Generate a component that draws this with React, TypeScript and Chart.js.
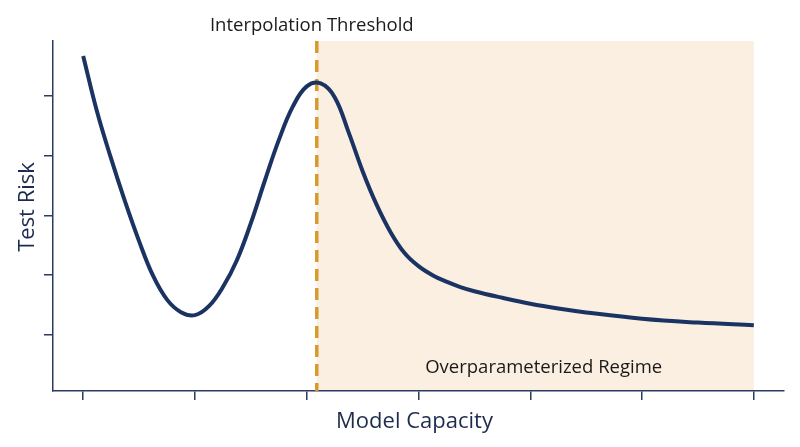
import { useEffect, useRef } from "react";
import { Chart, registerables } from "chart.js";

Chart.register(...registerables);

// Model capacity (x) and test risk (y)
const capacity = [
  0, 0.125, 0.25, 0.375, 0.5, 0.625, 0.75, 0.875, 1.0, 1.125, 1.25, 1.375, 1.5, 1.625, 1.75, 1.875, 2.0,
  2.125, 2.25, 2.375, 2.5, 2.625, 2.75, 2.875, 3.0, 3.125, 3.25, 3.375, 3.5, 3.75, 4.0, 4.25, 4.5, 5.0, 5.5, 6.0,
];
const testRisk = [
  5.67, 4.73, 3.95, 3.23, 2.57, 1.99, 1.59, 1.38, 1.33, 1.48, 1.8, 2.25, 2.87, 3.58, 4.26, 4.82, 5.16,
  5.21, 4.98, 4.39, 3.74, 3.18, 2.72, 2.37, 2.15, 2.0, 1.89, 1.8, 1.73, 1.62, 1.52, 1.44, 1.375, 1.27, 1.205, 1.16,
];

const xTicks = [0, 1, 2, 3, 4, 5, 6];
const yTicks = [1, 2, 3, 4, 5];
const xRange = [-0.27, 6.27];
const yRange = [0.06, 5.92];

const threshold = 2.09;
const regimeEnd = 6;
const regimeLabelX = 4.12;

const thresholdLabel = "Interpolation Threshold";
const regimeLabel = "Overparameterized Regime";
const xTitle = "Model Capacity";
const yTitle = "Test Risk";

const FONT = "'Open Sans', 'Noto Sans', sans-serif";
const NAVY = "#1b3363";
const AXIS = "#2a3a60";
const TITLE_COLOR = "#1d2b4f";
const SHADE = "#faefe1";
const DASH = "#d69a2d";

const regimePlugin = {
  id: "regimePlugin",
  beforeDraw(chart: any) {
    const { ctx, chartArea, scales } = chart;
    const x0 = scales.x.getPixelForValue(threshold);
    const x1 = scales.x.getPixelForValue(regimeEnd);
    ctx.save();
    ctx.fillStyle = SHADE;
    ctx.fillRect(x0, chartArea.top, x1 - x0, chartArea.bottom - chartArea.top);
    ctx.restore();
  },
  beforeDatasetsDraw(chart: any) {
    const { ctx, chartArea, scales } = chart;
    const x0 = scales.x.getPixelForValue(threshold);
    ctx.save();
    ctx.fillStyle = "#1a1a1a";
    ctx.font = `18.5px ${FONT}`;
    ctx.textAlign = "center";
    ctx.textBaseline = "alphabetic";
    ctx.fillText(regimeLabel, scales.x.getPixelForValue(regimeLabelX), 373);
    ctx.fillText(thresholdLabel, x0 - 5, 31);
    ctx.strokeStyle = DASH;
    ctx.lineWidth = 3.5;
    ctx.setLineDash([12, 7]);
    ctx.beginPath();
    ctx.moveTo(x0, chartArea.top);
    ctx.lineTo(x0, chartArea.bottom);
    ctx.stroke();
    ctx.restore();
  },
  afterDraw(chart: any) {
    const { ctx, chartArea } = chart;
    ctx.save();
    ctx.fillStyle = TITLE_COLOR;
    ctx.font = `22px ${FONT}`;
    ctx.textAlign = "center";
    ctx.textBaseline = "alphabetic";
    ctx.fillText(xTitle, (chartArea.left + chartArea.right) / 2 - 4, 428);
    ctx.translate(34, (chartArea.top + chartArea.bottom) / 2 - 9);
    ctx.rotate(-Math.PI / 2);
    ctx.fillText(yTitle, 0, 0);
    ctx.restore();
  },
};

export default function App() {
  const canvasRef = useRef<HTMLCanvasElement | null>(null);

  useEffect(() => {
    if (!canvasRef.current) return;
    const chart = new Chart(canvasRef.current, {
      type: "line",
      data: {
        datasets: [
          {
            label: yTitle,
            data: capacity.map((x, i) => ({ x, y: testRisk[i] })),
            borderColor: NAVY,
            borderWidth: 4,
            pointRadius: 0,
            fill: false,
            tension: 0.4,
          },
        ],
      },
      options: {
        responsive: false,
        animation: false,
        layout: { padding: { top: 41, right: 16, left: 0, bottom: 0 } },
        plugins: {
          legend: { display: false },
          tooltip: { enabled: false },
        },
        scales: {
          x: {
            type: "linear",
            min: xRange[0],
            max: xRange[1],
            afterBuildTicks: (s: any) => {
              s.ticks = xTicks.map((v) => ({ value: v }));
            },
            afterFit: (s: any) => {
              s.height = 56;
            },
            ticks: { display: false },
            grid: {
              drawOnChartArea: false,
              drawTicks: true,
              tickLength: 9,
              color: AXIS,
              lineWidth: 1.5,
            },
            border: { display: true, color: AXIS, width: 1.5 },
            title: { display: false, text: xTitle },
          },
          y: {
            type: "linear",
            min: yRange[0],
            max: yRange[1],
            afterBuildTicks: (s: any) => {
              s.ticks = yTicks.map((v) => ({ value: v }));
            },
            afterFit: (s: any) => {
              s.width = 53;
            },
            ticks: { display: false },
            grid: {
              drawOnChartArea: false,
              drawTicks: true,
              tickLength: 9,
              color: AXIS,
              lineWidth: 1.5,
            },
            border: { display: true, color: AXIS, width: 1.5 },
            title: { display: false, text: yTitle },
          },
        },
      },
      plugins: [regimePlugin],
    } as any);
    return () => chart.destroy();
  }, []);

  return (
    <div style={{ position: "absolute", left: 0, top: 0, width: 800, height: 447, background: "#ffffff" }}>
      <canvas ref={canvasRef} width={800} height={447} style={{ display: "block" }} />
    </div>
  );
}
